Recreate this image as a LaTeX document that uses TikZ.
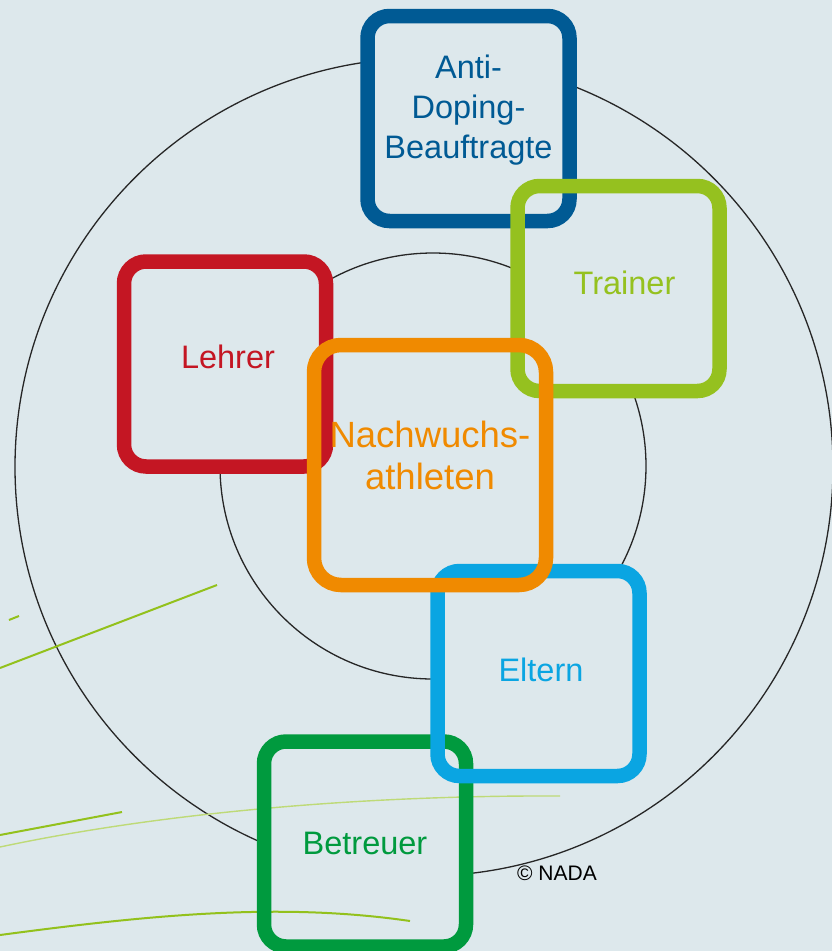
\documentclass[tikz,border=0pt]{standalone}
\usepackage{fontspec}
\setmainfont{Liberation Sans}
\definecolor{NadaBg}{HTML}{DDE8EC}
\definecolor{NadaBlue}{HTML}{005A94}
\definecolor{NadaLime}{HTML}{95C11F}
\definecolor{NadaRed}{HTML}{C41623}
\definecolor{NadaOrange}{HTML}{F08A00}
\definecolor{NadaSky}{HTML}{0AA5E2}
\definecolor{NadaGreen}{HTML}{009A3E}
\definecolor{NadaLine}{HTML}{93C11C}
\usetikzlibrary{backgrounds}

\begin{document}
\begin{tikzpicture}[x=1pt, y=-1pt,
      b/.style={rectangle, rounded corners=22pt, draw=#1, line width=14.5pt,
        outer sep=0pt, minimum width=202pt, minimum height=205pt},
      t/.style={text=#1, align=center, font=\fontsize{32.5}{40}\selectfont},
      ring/.style={draw=black!85, line width=1.3pt},
      streak/.style={NadaLine, line width=2pt}]
  \useasboundingbox (0,0) rectangle (832,951);
  \node[b=NadaBlue] (adb) at (468.5,118.5) {};
  \node[b=NadaLime] (trn) at (618.5,288.5) {};
  \node[b=NadaRed] (leh) at (225,364) {};
  \node[b=NadaGreen] (btr) at (365,844) {};
  \node[b=NadaSky] (elt) at (538.5,673.5) {};
  \node[b=NadaOrange, rounded corners=27pt, minimum width=232pt, minimum height=240pt] (nwa) at (430,465) {};
  \node[t=NadaBlue] (adb-t) at ([yshift=8pt]adb.center) {Anti-\\Doping-\\Beauftragte};
  \node[t=NadaLime] (trn-t) at ([xshift=6pt, yshift=6pt]trn.center) {Trainer};
  \node[t=NadaRed] (leh-t) at ([xshift=3pt, yshift=7pt]leh.center) {Lehrer};
  \node[t=NadaGreen] (btr-t) at ([yshift=1pt]btr.center) {Betreuer};
  \node[t=NadaSky] (elt-t) at ([xshift=2.5pt, yshift=4pt]elt.center) {Eltern};
  \node[t=NadaOrange, font=\fontsize{36.5}{42}\selectfont] (nwa-t) at ([yshift=10pt]nwa.center) {Nachwuchs-\\athleten};
  \node[font=\fontsize{21}{25}\selectfont] (copy) at (557,873) {© NADA};
  \begin{scope}[on background layer]
    \fill[NadaBg] (0,0) rectangle (832,951);
    \draw[ring] (424,467) circle[radius=409pt];
    \draw[ring] (433,466) circle[radius=213pt];
    % inside of the boxes hides the rings
    \foreach \n/\r in {adb/22,trn/22,leh/22,btr/22,elt/22,nwa/27}
      \fill[NadaBg, rounded corners=\r pt] (\n.south west) rectangle (\n.north east);
    % green streaks
    \draw[streak] (0,668) -- (217,585);
    \draw[streak] (9,620) -- (19,616);
    \draw[streak] (0,835) -- (122,812);
    \draw[streak, NadaLine!60, line width=1.4pt] (0,847) .. controls (150,815) and (350,795) .. (560,796);
    \draw[streak] (0,935) .. controls (150,915) and (280,902) .. (410,921);
  \end{scope}
\end{tikzpicture}
\end{document}
